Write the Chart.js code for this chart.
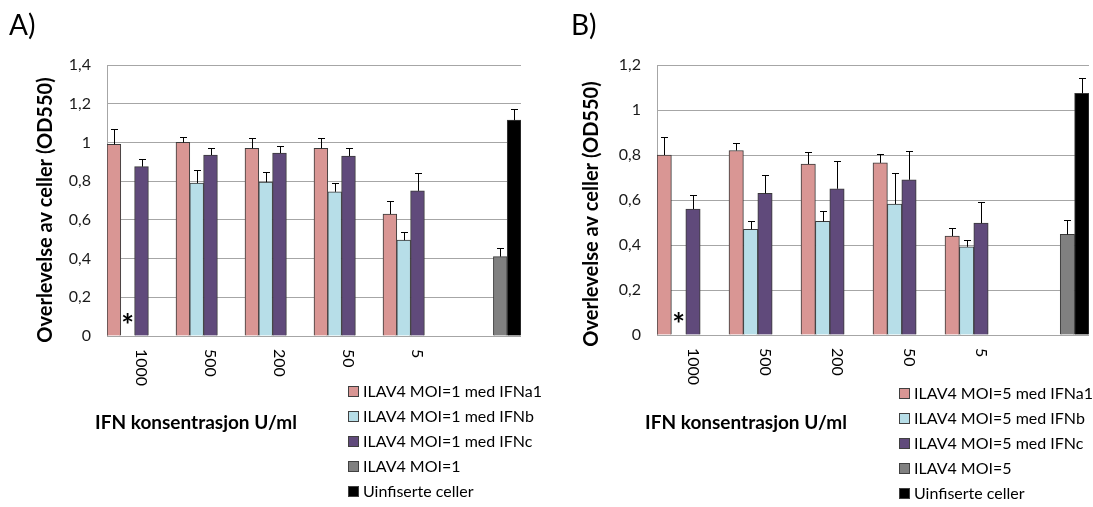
<!DOCTYPE html>
<html>
<head>
<meta charset="utf-8">
<script src="https://cdn.jsdelivr.net/npm/chart.js@4/dist/chart.umd.min.js"></script>
<style>
  html, body { margin: 0; padding: 0; background: #fff; }
  #wrap { position: relative; width: 1093px; height: 507px; }
  canvas { position: absolute; top: 0; }
</style>
</head>
<body>
<div id="wrap">
  <canvas id="chartA" width="546" height="507" style="left:0"></canvas>
  <canvas id="chartB" width="547" height="507" style="left:546px"></canvas>
</div>
<script>
'use strict';

// IFN concentrations (U/ml); last slot holds the controls
const concentrations = ['1000', '500', '200', '50', '5', ''];

// panel A: MOI=1
const ifna1A = [0.99, 1.00, 0.97, 0.97, 0.63, null];
const ifnbA  = [null, 0.79, 0.795, 0.745, 0.495, null];
const ifncA  = [0.875, 0.935, 0.945, 0.93, 0.75, null];
const moiA   = [null, null, null, null, null, 0.41];
const uninfA = [null, null, null, null, null, 1.115];
const ifna1ErrA = [0.08, 0.03, 0.055, 0.055, 0.07, null];
const ifnbErrA  = [null, 0.065, 0.05, 0.045, 0.04, null];
const ifncErrA  = [0.04, 0.035, 0.035, 0.04, 0.09, null];
const moiErrA   = [null, null, null, null, null, 0.045];
const uninfErrA = [null, null, null, null, null, 0.06];

// panel B: MOI=5
const ifna1B = [0.80, 0.82, 0.76, 0.765, 0.44, null];
const ifnbB  = [null, 0.47, 0.505, 0.582, 0.392, null];
const ifncB  = [0.56, 0.63, 0.65, 0.69, 0.497, null];
const moiB   = [null, null, null, null, null, 0.447];
const uninfB = [null, null, null, null, null, 1.074];
const ifna1ErrB = [0.08, 0.032, 0.053, 0.041, 0.035, null];
const ifnbErrB  = [null, 0.037, 0.044, 0.137, 0.03, null];
const ifncErrB  = [0.062, 0.08, 0.125, 0.126, 0.096, null];
const moiErrB   = [null, null, null, null, null, 0.063];
const uninfErrB = [null, null, null, null, null, 0.07];

const colors = ['#d99694', '#b7dee8', '#604a7b', '#808080', '#000000'];
const FONT = 'Lato, "Open Sans", sans-serif';

function commaLabel(v) {
  return String(Math.round(v * 10) / 10).replace('.', ',');
}

function makeDatasets(moi, values, errs) {
  const names = [
    'ILAV4 MOI=' + moi + ' med IFNa1',
    'ILAV4 MOI=' + moi + ' med IFNb',
    'ILAV4 MOI=' + moi + ' med IFNc',
    'ILAV4 MOI=' + moi,
    'Uinfiserte celler'
  ];
  return names.map((name, i) => ({
    label: name,
    data: values[i],
    errs: errs[i],
    backgroundColor: colors[i],
    borderColor: '#3a3a3a',
    borderWidth: 1,
    barPercentage: 1,
    categoryPercentage: 1
  }));
}

// upper error bars, drawn from the bar top
const errorBars = {
  id: 'errorBars',
  afterDatasetsDraw(chart) {
    const ctx = chart.ctx, y = chart.scales.y;
    ctx.save();
    ctx.strokeStyle = '#000';
    ctx.lineWidth = 1;
    chart.data.datasets.forEach((ds, di) => {
      const meta = chart.getDatasetMeta(di);
      ds.data.forEach((v, i) => {
        if (v == null || ds.errs[i] == null) return;
        const bar = meta.data[i];
        const x = Math.round(bar.x) + 0.5;
        const top = Math.round(y.getPixelForValue(v + ds.errs[i])) + 0.5;
        ctx.beginPath();
        ctx.moveTo(x, bar.y);
        ctx.lineTo(x, top);
        ctx.moveTo(x - 3.5, top);
        ctx.lineTo(x + 3.5, top);
        ctx.stroke();
      });
    });
    ctx.restore();
  }
};

// panel letter, axis titles, rotated category labels, legend and the asterisk
function panelText(cfg) {
  return {
    id: 'panelText',
    afterDraw(chart) {
      const ctx = chart.ctx, xs = chart.scales.x, ys = chart.scales.y, area = chart.chartArea;
      ctx.save();
      ctx.fillStyle = '#000';

      ctx.font = '28px ' + FONT;
      ctx.textAlign = 'left';
      ctx.textBaseline = 'alphabetic';
      ctx.fillText(cfg.letter, cfg.letterX, 35);

      ctx.font = '16px ' + FONT;
      ctx.textBaseline = 'middle';
      chart.data.labels.forEach((lab, i) => {
        ctx.save();
        ctx.translate(xs.getPixelForValue(i), area.bottom + 13);
        ctx.rotate(Math.PI / 2);
        ctx.fillText(lab, 0, 0);
        ctx.restore();
      });

      ctx.save();
      ctx.font = 'bold 20px ' + FONT;
      ctx.textAlign = 'center';
      ctx.translate(cfg.yTitleX, cfg.yTitleY);
      ctx.rotate(-Math.PI / 2);
      ctx.fillText('Overlevelse av celler (OD550)', 0, 0);
      ctx.restore();

      ctx.font = 'bold 19px ' + FONT;
      ctx.textAlign = 'center';
      ctx.fillText('IFN konsentrasjon U/ml', cfg.xTitleX, 423);

      ctx.font = '16px ' + FONT;
      ctx.textAlign = 'left';
      chart.data.datasets.forEach((ds, i) => {
        const cy = cfg.legendY + i * 25;
        ctx.fillStyle = ds.backgroundColor;
        ctx.fillRect(cfg.legendX, cy - 5, 11, 11);
        ctx.strokeStyle = '#404040';
        ctx.lineWidth = 1;
        ctx.strokeRect(cfg.legendX + 0.5, cy - 4.5, 10, 10);
        ctx.fillStyle = '#000';
        ctx.fillText(ds.label, cfg.legendX + 15, cy + 1);
      });

      const gap = chart.getDatasetMeta(1).data[0];
      ctx.font = 'bold 30px ' + FONT;
      ctx.textAlign = 'center';
      ctx.fillText('*', gap.x, ys.getPixelForValue(0) - 10);
      ctx.restore();
    }
  };
}

function buildChart(id, datasets, yMax, pad, cfg) {
  return new Chart(document.getElementById(id), {
    type: 'bar',
    data: { labels: concentrations, datasets: datasets },
    options: {
      responsive: false,
      animation: false,
      layout: { padding: pad },
      plugins: { legend: { display: false }, tooltip: { enabled: false } },
      scales: {
        x: { display: false },
        y: {
          min: 0,
          max: yMax,
          ticks: {
            stepSize: 0.2,
            padding: 16,
            color: '#1a1a1a',
            font: { family: FONT, size: 16 },
            callback: commaLabel
          },
          grid: { color: '#a6a6a6', drawTicks: false },
          border: { color: '#a6a6a6' },
          afterFit(scale) { scale.width = cfg.axisWidth; }
        }
      }
    },
    plugins: [errorBars, panelText(cfg)]
  });
}

buildChart('chartA',
  makeDatasets(1, [ifna1A, ifnbA, ifncA, moiA, uninfA],
    [ifna1ErrA, ifnbErrA, ifncErrA, moiErrA, uninfErrA]),
  1.4,
  { left: 0, top: 65, right: 25, bottom: 171 },
  { letter: 'A)', letterX: 9, axisWidth: 107, yTitleX: 46, yTitleY: 210,
    xTitleX: 196, legendX: 348, legendY: 391 });

buildChart('chartB',
  makeDatasets(5, [ifna1B, ifnbB, ifncB, moiB, uninfB],
    [ifna1ErrB, ifnbErrB, ifncErrB, moiErrB, uninfErrB]),
  1.2,
  { left: 0, top: 65, right: 4, bottom: 172 },
  { letter: 'B)', letterX: 25, axisWidth: 111, yTitleX: 46, yTitleY: 214,
    xTitleX: 200, legendX: 353, legendY: 393 });
</script>
</body>
</html>
